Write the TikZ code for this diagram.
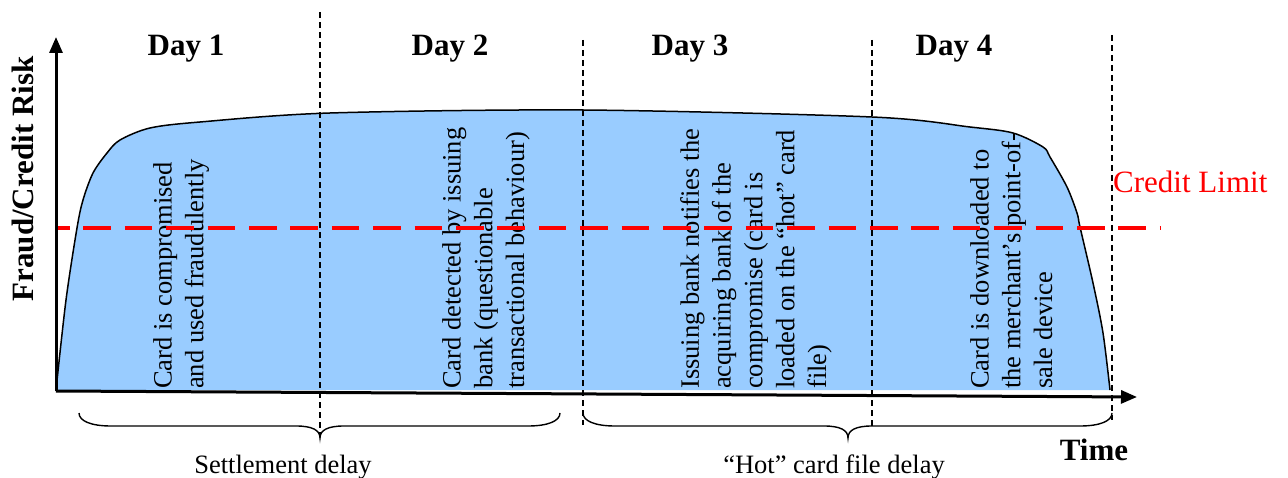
\documentclass[tikz,border=0pt]{standalone}
\usepackage{fontspec}
\setmainfont{Liberation Serif}
\usetikzlibrary{arrows.meta}
\definecolor{riskblue}{RGB}{153,204,255}
\begin{document}
\begin{tikzpicture}[x=1pt,y=-1pt,
  axisline/.style={line width=3pt,-{Triangle[length=16pt,width=13pt]}},
  daygrid/.style={line width=1.3pt,dash pattern=on 6pt off 4pt},
  limitline/.style={red,line width=3.5pt,dash pattern=on 27.6pt off 13.8pt,dash phase=14pt},
  bracepath/.style={line width=1.4pt},
  dayhead/.style={font=\fontsize{31}{37}\selectfont\bfseries,inner sep=0pt,anchor=base},
  event/.style={font=\fontsize{26.5}{31.8}\selectfont,align=left,rotate=90,anchor=north west,inner sep=0pt},
  note/.style={font=\fontsize{26.5}{31.8}\selectfont,inner sep=0pt,anchor=base}]
\useasboundingbox (0,0) rectangle (1288,478);

% risk curve
\def\riskcurve{plot[smooth,tension=0.5] coordinates {(56,390) (66,300) (77,228) (83,200) (93,173) (107,153)
  (120,140) (150,128) (200,122) (330,113) (583,110) (872,117) (970,127) (1013,133)
  (1043,147) (1050,157) (1067,187) (1077,213) (1080,227) (1093,283) (1103,333) (1110,390)}}
\fill[riskblue] \riskcurve -- cycle;
\draw[line width=1.5pt] \riskcurve;

% event texts
\node[event] (e1) at (153,389) {Card is compromised\\and used fraudulently};
\node[event] (e2) at (442,389) {Card detected by issuing\\bank (questionable\\transactional behaviour)};
\node[event] (e3) at (680,389) {Issuing bank notifies the\\acquiring bank of the\\compromise (card is\\loaded on the “hot” card\\file)};
\node[event] (e4) at (970,389) {Card is downloaded to\\the merchant’s point-of-\\sale device};

% day separators
\coordinate (g1t) at (320,12);  \coordinate (g1b) at (320,436);
\coordinate (g2t) at (583,40);  \coordinate (g2b) at (583,425);
\coordinate (g3t) at (872,40);  \coordinate (g3b) at (872,426);
\coordinate (g4t) at (1112,35); \coordinate (g4b) at (1112,420);
\foreach \g in {1,2,3,4} \draw[daygrid] (g\g t) -- (g\g b);

% credit limit
\coordinate (cl0) at (56,228);
\coordinate (cl1) at (1160,228);
\draw[limitline] (cl0) -- (cl1);
\node[anchor=base west,inner sep=0pt,text=red,font=\fontsize{31}{37}\selectfont] (cl) at (1113,193) {Credit Limit};

% axes
\coordinate (origin) at (56,391);
\coordinate (ytop) at (56,37);
\coordinate (xend) at (1137,397);
\draw[axisline] (origin) -- (xend);
\draw[axisline] (origin) -- (ytop);
\node[dayhead,rotate=90] (ylab) at (33,179) {Fraud/Credit Risk};
\node[dayhead] (xlab) at (1094,460) {Time};

% day headings
\node[dayhead] (d1) at (186,56) {Day 1};
\node[dayhead] (d2) at (450,56) {Day 2};
\node[dayhead] (d3) at (690,56) {Day 3};
\node[dayhead] (d4) at (954,56) {Day 4};

% delay braces
\def\delaybrace#1#2#3{%
  \draw[bracepath] (#1,413) .. controls (#1,421) and (#1+12,426) .. (#1+32,426)
    -- (#3-24,426) .. controls (#3-8,426) and (#3,430) .. (#3,438)
    .. controls (#3,430) and (#3+8,426) .. (#3+24,426)
    -- (#2-32,426) .. controls (#2-12,426) and (#2,421) .. (#2,413);}
\delaybrace{79}{560}{320}
\delaybrace{583}{1112}{848}
\node[note] (sd) at (283,473) {Settlement delay};
\node[note] (hd) at (834,473) {“Hot” card file delay};
\end{tikzpicture}
\end{document}
